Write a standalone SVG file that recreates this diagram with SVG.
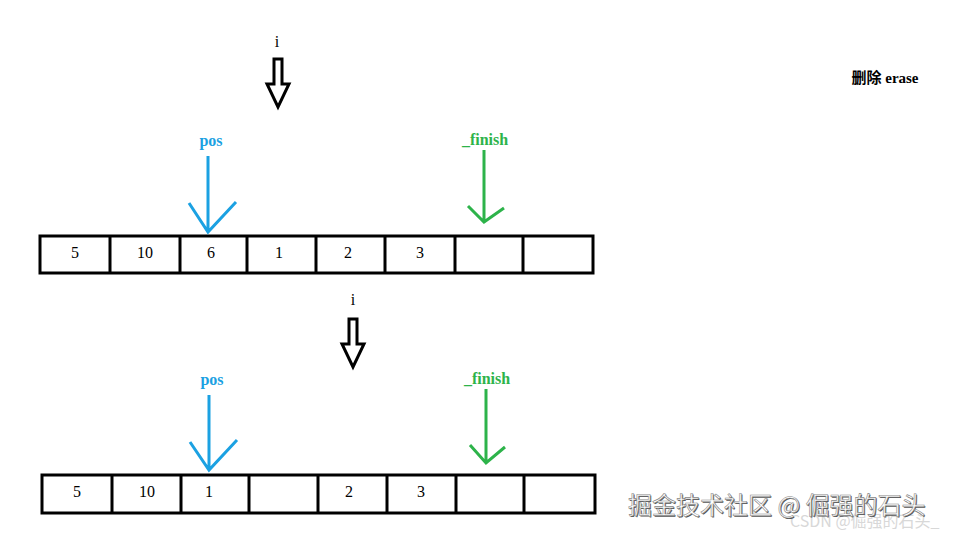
<svg xmlns="http://www.w3.org/2000/svg" width="970" height="537" viewBox="0 0 970 537">
<style>
.cell{fill:#fff;stroke:#000;stroke-width:3}
.num{font-family:"Liberation Serif",serif;font-size:16px;text-anchor:middle;fill:#000}
.hollow{fill:#fff;stroke:#000;stroke-width:3;stroke-linejoin:miter}
.blue{stroke:#1ba1e2;stroke-width:3;fill:none}
.green{stroke:#2db34a;stroke-width:3;fill:none}
.lbl{font-family:"Liberation Serif",serif;font-size:16px;font-weight:bold;text-anchor:middle}
</style>
<rect width="970" height="537" fill="#fff"/>
<g id="array1">
<rect class="cell" x="40" y="236" width="553" height="37"/>
<path d="M110 236V273M180 236V273M247 236V273M316 236V273M385 236V273M455 236V273M523 236V273" stroke="#000" stroke-width="3"/>
<text class="num" x="75" y="258">5</text><text class="num" x="145" y="258">10</text><text class="num" x="211" y="258">6</text><text class="num" x="279" y="258">1</text><text class="num" x="348" y="258">2</text><text class="num" x="420" y="258">3</text>
</g>
<g id="array2">
<rect class="cell" x="42" y="475" width="553" height="38"/>
<path d="M112 475V513M181 475V513M249 475V513M318 475V513M387 475V513M456 475V513M524 475V513" stroke="#000" stroke-width="3"/>
<text class="num" x="77" y="497">5</text><text class="num" x="147" y="497">10</text><text class="num" x="209" y="497">1</text><text class="num" x="349" y="497">2</text><text class="num" x="421" y="497">3</text>
</g>
<g id="labels">
<text class="num" x="277" y="47">i</text>
<text class="num" x="353" y="305">i</text>
<text class="lbl" x="211" y="146" fill="#1ba1e2">pos</text>
<text class="lbl" x="212" y="385" fill="#1ba1e2">pos</text>
<text class="lbl" x="485" y="145" fill="#2db34a">_finish</text>
<text class="lbl" x="487" y="384" fill="#2db34a">_finish</text>
<text x="885" y="83" font-family="'Liberation Serif','Noto Sans CJK SC',serif" font-size="15" font-weight="bold" text-anchor="middle">删除 erase</text>
</g>
<g id="connectors">
<path class="hollow" d="M274 59H282V84H289L278 107L267 84H274Z"/>
<path class="hollow" d="M349 319H357V344H364L353 367L342 344H349Z"/>
<path class="blue" d="M208 156V232M189 203L208 232L236 202"/>
<path class="blue" d="M209 395V470M190 442L209 470L237 440"/>
<path class="green" d="M484 150V222M468 206L484 222L504 208"/>
<path class="green" d="M486 389V463M470 445L486 463L505 447"/>
</g>
<g id="watermark" font-family="'Noto Sans CJK SC',sans-serif">
<text x="790" y="527" font-size="16" fill="#d8d8d8">CSDN @倔强的石头_</text>
<text x="628" y="514" font-size="24" fill="#555" dx="1" dy="1">掘金技术社区 @ 倔强的石头</text>
<text x="628" y="514" font-size="24" fill="#fff" stroke="#888" stroke-width="0.6">掘金技术社区 @ 倔强的石头</text>
</g>
</svg>
